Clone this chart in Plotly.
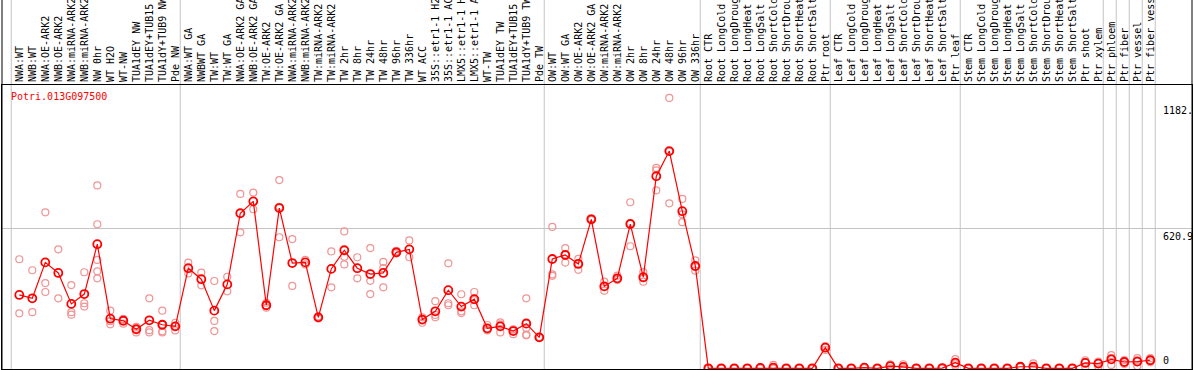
import plotly.graph_objects as go

samples = [
    "NWA:WT", "NWB:WT", "NWA:OE-ARK2", "NWB:OE-ARK2", "NWA:miRNA-ARK2", "NWB:miRNA-ARK2",
    "NW 0hr", "WT H2O", "WT-NW", "TUA1dEY NW", "TUA1dEY+TUB15 NW", "TUA1dY+TUB9 NW", "Pde NW",
    "NWA:WT GA", "NWBWT GA", "TW:WT", "TW:WT GA", "NWA:OE-ARK2 GA", "NWB:OE-ARK2 GA",
    "TW:OE-ARK2", "TW:OE-ARK2 GA", "NWA:miRNA-ARK2", "NWB:miRNA-ARK2", "TW:miRNA-ARK2",
    "TW:miRNA-ARK2", "TW 2hr", "TW 8hr", "TW 24hr", "TW 48hr", "TW 96hr", "TW 336hr",
    "WT ACC", "35S::etr1-1 H2O", "35S::etr1-1 ACC", "LMX5::etr1-1 H2O", "LMX5::etr1-1 ACC",
    "WT-TW", "TUA1dEY TW", "TUA1dEY+TUB15 TW", "TUA1dY+TUB9 TW", "Pde TW",
    "OW:WT", "OW:WT GA", "OW:OE-ARK2", "OW:OE-ARK2 GA", "OW:miRNA-ARK2", "OW:miRNA-ARK2",
    "OW 2hr", "OW 8hr", "OW 24hr", "OW 48hr", "OW 96hr", "OW 336hr",
    "Root CTR", "Root LongCold", "Root LongDrought", "Root LongHeat", "Root LongSalt",
    "Root ShortCold", "Root ShortDrought", "Root ShortHeat", "Root ShortSalt", "Ptr root",
    "Leaf CTR", "Leaf LongCold", "Leaf LongDrought", "Leaf LongHeat", "Leaf LongSalt",
    "Leaf ShortCold", "Leaf ShortDrought", "Leaf ShortHeat", "Leaf ShortSalt", "Ptr leaf",
    "Stem CTR", "Stem LongCold", "Stem LongDrought", "Stem LongHeat", "Stem LongSalt",
    "Stem ShortCold", "Stem ShortDrought", "Stem ShortHeat", "Stem ShortSalt", "Ptr shoot",
    "Ptr xylem", "Ptr phloem", "Ptr fiber", "Ptr vessel", "Ptr fiber vessel",
]

means = [
    327, 312, 472, 425, 287, 331, 553, 221, 212, 174, 214, 194, 187,
    446, 397, 257, 374, 691, 744, 281, 714, 469, 472, 227, 443, 526, 446, 420, 425, 517, 530,
    217, 254, 348, 275, 308, 178, 187, 166, 199, 138,
    487, 505, 465, 664, 365, 401, 643, 406, 856, 968, 700, 456,
    0, 0, 0, 0, 2, 3, 0, 0, 0, 92,
    0, 0, 3, 0, 10, 6, 0, 0, 1, 25,
    0, 0, 0, 0, 7, 7, 0, 0, 0, 24,
    21, 40, 28, 30, 36,
]

replicates = [
    [486, 245], [437, 250], [695, 380, 340], [530, 312], [371, 250, 239], [428, 290, 275],
    [815, 642, 483, 432, 401], [257, 210, 196], [220, 217, 199], [185, 160, 176],
    [312, 160, 170], [257, 195, 160, 165], [203, 169, 189],
    [471, 423], [426, 370], [389, 211, 166], [408, 343], [777, 606], [783, 709],
    [280, 270, 292], [839, 584, 720], [576, 367], [483, 463], [232, 222, 227], [521, 361],
    [610, 497, 463], [495, 401], [536, 390, 331], [474, 446, 361], [523, 512, 516], [570, 495],
    [227, 216, 203], [299, 227, 238], [468, 290, 281], [330, 254, 246], [340, 281, 304],
    [193, 169, 172], [205, 160, 196], [174, 152, 172], [312, 205, 180, 150, 147], [140, 136, 138],
    [630, 419, 412], [536, 471, 508], [488, 439, 467], [668, 661, 663], [386, 346, 364],
    [413, 394, 396], [740, 544, 645], [429, 386, 401], [893, 882, 793], [1205, 735, 966],
    [755, 686, 651], [481, 435, 452],
    [0, 0, 0], [0, 0, 0], [0, 0, 0], [0, 0, 0], [5, 0, 1], [15, 0, 0], [0, 0, 0], [0, 0, 0],
    [0, 0, 0], [99, 82, 95],
    [0, 0, 0], [0, 0, 0], [5, 2, 2], [0, 0, 0], [18, 0, 12], [18, 0, 0], [0, 0, 0], [0, 0, 0],
    [1, 0, 2], [41, 12, 22],
    [0, 0, 0], [0, 0, 0], [0, 0, 0], [0, 0, 0], [10, 5, 6], [22, 0, 0], [0, 0, 0], [0, 0, 0],
    [0, 0, 0], [36, 7, 29],
    [30, 7, 25], [59, 15, 46], [37, 19, 28], [45, 10, 35], [45, 27, 36],
]

group_ends = [-1, 12, 40, 52, 62, 72, 83, 84, 85, 86, 87]
gene = "Potri.013G097500"
y_ticks = [1182.0, 620.9, 0]
y_tick_text = ["1182.", "620.9", "0"]

W, H = 1194, 370
ML, MR, MT, MB = 2, 2, 85, 1
step_px = 13.0
first_px = 19.3
plot_w = W - ML - MR
plot_h = H - MT - MB
xmin = -(first_px - ML) / step_px
xmax = xmin + plot_w / step_px
ymin, ymax = -3.1, 1262.5

idx = list(range(len(samples)))
rx, ry = [], []
for i, reps in enumerate(replicates):
    for v in reps:
        rx.append(i)
        ry.append(v)

font = "DejaVu Sans Mono"
fig = go.Figure()
fig.add_trace(go.Scatter(
    x=rx, y=ry, mode="markers",
    marker=dict(symbol="circle-open", size=7, color="#f09494", line=dict(width=1.2)),
    hoverinfo="skip", showlegend=False,
))
fig.add_trace(go.Scatter(
    x=idx, y=means, mode="lines+markers",
    line=dict(color="#ff0000", width=1.2),
    marker=dict(symbol="circle-open", size=8, color="#ff0000", line=dict(width=1.8)),
    showlegend=False,
))

def xpaper(v):
    return (v - xmin) / (xmax - xmin)

shapes = []
top_paper = 1 + MT / plot_h
for g in group_ends:
    xp = xpaper(g + 0.38)
    shapes.append(dict(type="line", xref="paper", yref="paper", x0=xp, x1=xp, y0=0, y1=top_paper,
                       line=dict(color="#c4c4c4", width=1), layer="below"))
for xp in (0, 1):
    shapes.append(dict(type="line", xref="paper", yref="paper", x0=xp, x1=xp, y0=0, y1=top_paper,
                       line=dict(color="black", width=1)))

annotations = [dict(x=xpaper(xmin) + 7 / plot_w, y=1 - 12 / plot_h, xref="paper", yref="paper",
                    text=gene, showarrow=False, xanchor="left", yanchor="middle",
                    font=dict(family=font, size=10, color="#ff0000"))]
for v, t in zip(y_ticks, y_tick_text):
    annotations.append(dict(x=(1161 - ML) / plot_w, y=v, xref="paper", yref="y", text=t,
                            showarrow=False, xanchor="left",
                            yanchor="bottom" if v == 0 else "top",
                            font=dict(family=font, size=10, color="black")))

fig.update_layout(
    width=W, height=H, margin=dict(l=ML, r=MR, t=MT, b=MB, autoexpand=False),
    paper_bgcolor="white", plot_bgcolor="white",
    shapes=shapes, annotations=annotations,
    xaxis=dict(range=[xmin, xmax], side="top", tickmode="array", tickvals=idx, ticktext=samples,
               tickangle=-90, ticks="", showgrid=False, zeroline=False, showline=True, mirror=True,
               linecolor="black", linewidth=1, automargin=False,
               tickfont=dict(family=font, size=10, color="black")),
    yaxis=dict(range=[ymin, ymax], tickmode="array", tickvals=[620.9], showticklabels=False,
               showgrid=True, gridcolor="#c4c4c4", gridwidth=1, zeroline=False, showline=True,
               mirror=True, linecolor="black", linewidth=1, ticks=""),
)
fig.write_html("out.html", config={"displayModeBar": False},
               post_script="document.body.style.margin='0';document.body.style.overflow='hidden';")
